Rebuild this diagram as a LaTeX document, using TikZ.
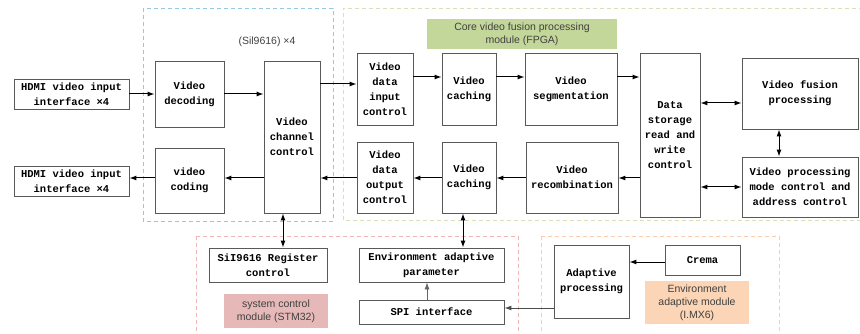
\documentclass[tikz,border=0pt]{standalone}
\usepackage{fontspec}
\setmainfont{Liberation Serif}
\setsansfont{Liberation Sans}
\setmonofont{Liberation Mono}
\usetikzlibrary{arrows.meta}

\definecolor{zoneblue}{RGB}{150,200,225}
\definecolor{zonegreen}{RGB}{215,225,185}
\definecolor{zonepink}{RGB}{240,180,185}
\definecolor{zoneorange}{RGB}{250,205,175}
\definecolor{taggreen}{RGB}{196,215,155}
\definecolor{tagpink}{RGB}{230,185,184}
\definecolor{tagpeach}{RGB}{251,213,181}

\tikzset{
	blk/.style={draw=black!65, line width=0.9pt, fill=white, align=center, inner sep=1pt,
		font=\ttfamily\bfseries\fontsize{10.5}{15}\selectfont},
	tag/.style={align=center, inner sep=0pt, text=black!75, font=\sffamily\fontsize{10.5}{13}\selectfont},
	arr/.style={-{Latex[length=7pt,width=5pt]}, line width=1pt},
	darr/.style={{Latex[length=7pt,width=5pt]}-{Latex[length=7pt,width=5pt]}, line width=1pt},
	zone/.style={dash pattern=on 4pt off 3pt, line width=0.8pt},
}

\begin{document}
\begin{tikzpicture}[x=1pt, y=-1pt]
		\useasboundingbox (0, 0) rectangle (860, 334);
		\clip (0, 0) rectangle (860, 334);
		
		\draw [zone, zoneblue] (143, 8) rectangle (333, 221); % Sil9616
		\draw [zone, zonegreen] (870, 8) -- (343, 8) -- (343, 220) -- (870, 220); % FPGA
		\draw [zone, zonepink] (196, 236) rectangle (518, 350); % STM32
		\draw [zone, zoneorange] (541, 236) rectangle (779, 350); % I.MX6
		
		\node [tag] (sil) at (267, 42) {(Sil9616) ×4};
		\node [tag, fill=taggreen, minimum width=190, minimum height=30] (fpga) at (522, 34) {Core video fusion processing\\module (FPGA)};
		\node [tag, fill=tagpink, minimum width=104, minimum height=34] (stm) at (276, 311) {system control\\module (STM32)};
		\node [tag, fill=tagpeach, minimum width=104, minimum height=43] (imx) at (697, 302.5) {Environment\\adaptive module\\(I.MX6)};
		
		\node [blk, minimum width=115, minimum height=30] (hdmiin) at (71.5, 94) {HDMI video input\\interface ×4};
		\node [blk, minimum width=115, minimum height=30] (hdmiout) at (71.5, 181) {HDMI video input\\interface ×4};
		\node [blk, minimum width=69, minimum height=66] (dec) at (189.5, 94) {Video\\decoding};
		\node [blk, minimum width=69, minimum height=65] (cod) at (189.5, 180.5) {video\\coding};
		\node [blk, minimum width=56, minimum height=152] (chan) at (292, 137) {Video\\channel\\control};
		
		\node [blk, minimum width=56, minimum height=72] (inctl) at (385, 89) {Video\\data\\input\\control};
		\node [blk, minimum width=54, minimum height=72] (cachein) at (469, 89) {Video\\caching};
		\node [blk, minimum width=92, minimum height=72] (seg) at (571, 89) {Video\\segmentation};
		\node [blk, minimum width=60, minimum height=164] (store) at (670, 135) {Data\\storage\\read and\\write\\control};
		\node [blk, minimum width=116, minimum height=71] (fus) at (800, 93.5) {Video fusion\\processing};
		\node [blk, minimum width=116, minimum height=60] (mode) at (800, 187) {Video processing\\mode control and\\address control};
		\node [blk, minimum width=56, minimum height=71] (outctl) at (385, 177.5) {Video\\data\\output\\control};
		\node [blk, minimum width=54, minimum height=71] (cacheout) at (469, 177.5) {Video\\caching};
		\node [blk, minimum width=92, minimum height=71] (recomb) at (572, 177.5) {Video\\recombination};
		
		\node [blk, minimum width=118, minimum height=34] (reg) at (268, 265) {SiI9616 Register\\control};
		\node [blk, minimum width=145, minimum height=34] (envp) at (431.5, 265) {Environment adaptive\\parameter};
		\node [blk, minimum width=145, minimum height=24] (spi) at (431.5, 312) {SPI interface};
		\node [blk, minimum width=75, minimum height=73] (adapt) at (591.5, 281.5) {Adaptive\\processing};
		\node [blk, minimum width=75, minimum height=30] (crema) at (702.5, 260) {Crema};
		
		\draw [arr] (hdmiin) -- (dec); % Ingang
		\draw [arr] (dec.east) -- (dec.east -| chan.west);
		\draw [arr] (chan.east |- 0,84) -- (inctl.west |- 0,84);
		\draw [arr] (inctl.east |- 0,77) -- (cachein.west |- 0,77);
		\draw [arr] (cachein.east |- 0,77) -- (seg.west |- 0,77);
		\draw [arr] (seg.east |- 0,77) -- (store.west |- 0,77);
		
		\draw [arr] (store.west |- 0,178) -- (recomb.east |- 0,178); % Utgang
		\draw [arr] (recomb.west |- 0,178) -- (cacheout.east |- 0,178);
		\draw [arr] (cacheout.west |- 0,178) -- (outctl.east |- 0,178);
		\draw [arr] (outctl.west |- 0,178) -- (chan.east |- 0,178);
		\draw [arr] (chan.west |- 0,178) -- (cod.east |- 0,178);
		\draw [arr] (cod.west |- 0,178) -- (hdmiout.east |- 0,178);
		
		\draw [darr] (store.east |- 0,103) -- (fus.west |- 0,103);
		\draw [darr] (store.east |- 0,187) -- (mode.west |- 0,187);
		\draw [darr] (fus.south -| 779,0) -- (mode.north -| 779,0);
		\draw [darr] (chan.south -| 283,0) -- (reg.north -| 283,0);
		\draw [darr] (cacheout.south -| 463,0) -- (envp.north -| 463,0);
		
		\draw [arr, black!60, line width=0.8pt] (spi.north -| 427,0) -- (envp.south -| 427,0);
		\draw [arr, black!70] (adapt.west |- 0,308) -- (spi.east |- 0,308);
		\draw [arr] (crema.west |- 0,262) -- (adapt.east |- 0,262);
	\end{tikzpicture}
\end{document}
